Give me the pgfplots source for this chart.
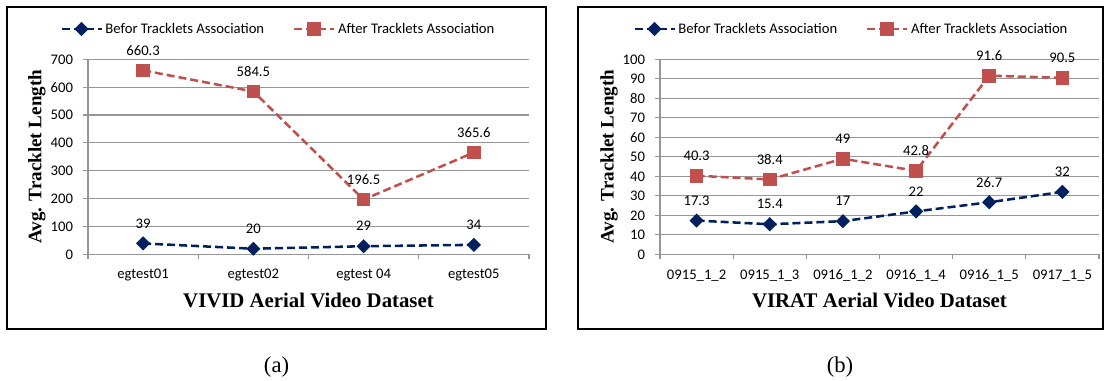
\documentclass[border=0pt]{standalone}
\usepackage{fontspec}
\setmainfont{Carlito}
\newfontfamily\tnr{Liberation Serif}
\usepackage{pgfplots}
\pgfplotsset{compat=1.18}
\definecolor{navy}{RGB}{0,32,96}
\definecolor{exred}{RGB}{192,80,77}
\definecolor{gridgray}{RGB}{150,150,150}
\newcommand\calfont{\fontsize{11}{13}\selectfont}
\pgfplotsset{
  mystyle/.style={
    scale only axis,
    height=146.25pt,
    ymin=0,
    clip=false,
    axis lines*=left,
    axis line style={gridgray, line width=0.8pt},
    ymajorgrids,
    grid style={gridgray, line width=0.8pt},
    tick align=outside,
    major tick length=3.75pt,
    tick style={gridgray, line width=0.8pt},
    xticklabels={},
    tick label style={font=\calfont, text=black},
    /pgf/number format/assume math mode=true,
    yticklabel style={anchor=east, xshift=-4pt},
    extra x tick style={major tick length=0pt, xticklabel style={anchor=center, yshift=-15.75pt}},
    xlabel style={font=\tnr\bfseries\fontsize{15.6}{18}\selectfont, anchor=center},
    ylabel style={font=\tnr\bfseries\fontsize{14.3}{16}\selectfont, anchor=center},
    nodes near coords,
    every node near coord/.append style={font=\calfont, text=black, anchor=center, yshift=15pt},
    legend columns=2,
    legend style={draw=none, fill=none, font=\calfont, inner sep=0pt,
      /tikz/every even column/.append style={column sep=19.5pt}},
    legend image code/.code={\draw[mark repeat=2,mark phase=2,#1] plot coordinates {(0pt,0pt) (15pt,0pt) (30pt,0pt)};},
  },
  bluestyle/.style={navy, line width=1.9pt, dash pattern=on 6pt off 3pt,
    mark=square*, mark size=2.8pt, mark options={solid, rotate=45, fill=navy}},
  redstyle/.style={exred, line width=1.9pt, dash pattern=on 6pt off 3pt,
    mark=square*, mark size=4.2pt, mark options={solid, fill=exred}},
}
\begin{document}
\begin{tikzpicture}
\path[use as bounding box] (0pt,0pt) rectangle (828pt,285pt);
\begin{axis}[mystyle,
  at={(66pt,94.275pt)}, anchor=south west, width=330.75pt,
  ymax=700, ytick={0,100,...,700},
  xmin=-0.5, xmax=3.5, xtick={-0.5,0.5,...,3.5},
  extra x ticks={0,1,2,3},
  extra x tick labels={egtest01,egtest02,egtest 04,egtest05},
  xlabel={VIVID Aerial Video Dataset},
  xlabel style={at={(axis description cs:0.5,-0.2359)}},
  ylabel={Avg. Tracklet Length},
  ylabel style={at={(axis description cs:-0.1157,0.5)}},
  legend style={at={(-0.0635,1.1554)}, anchor=west},
]
\addplot[bluestyle] coordinates {(0,39) (1,20) (2,29) (3,34)};
\addplot[redstyle] coordinates {(0,660.3) (1,584.5) (2,196.5) (3,365.6)};
\legend{Befor Tracklets Association, After Tracklets Association}
\end{axis}
\begin{axis}[mystyle,
  at={(495pt,94.275pt)}, anchor=south west, width=329.25pt,
  ymax=100, ytick={0,10,...,100},
  xmin=-0.5, xmax=5.5, xtick={-0.5,0.5,...,5.5},
  extra x ticks={0,1,2,3,4,5},
  extra x tick labels={0915\_1\_2,0915\_1\_3,0916\_1\_2,0916\_1\_4,0916\_1\_5,0917\_1\_5},
  xlabel={VIRAT Aerial Video Dataset},
  xlabel style={at={(axis description cs:0.5,-0.2359)}},
  ylabel={Avg. Tracklet Length},
  ylabel style={at={(axis description cs:-0.1162,0.5)}},
  legend style={at={(-0.0615,1.1554)}, anchor=west},
]
\addplot[bluestyle] coordinates {(0,17.3) (1,15.4) (2,17) (3,22) (4,26.7) (5,32)};
\addplot[redstyle] coordinates {(0,40.3) (1,38.4) (2,49) (3,42.8) (4,91.6) (5,90.5)};
\legend{Befor Tracklets Association, After Tracklets Association}
\end{axis}
\draw[line width=1pt] (5.25pt,38.25pt) rectangle (409.5pt,279.75pt);
\draw[line width=1pt] (433.5pt,38.25pt) rectangle (827.25pt,279.75pt);
\node[font=\tnr\fontsize{17}{20}\selectfont] at (207.4pt,9.75pt) {(a)};
\node[font=\tnr\fontsize{17}{20}\selectfont] at (630pt,9.75pt) {(b)};
\end{tikzpicture}
\end{document}
